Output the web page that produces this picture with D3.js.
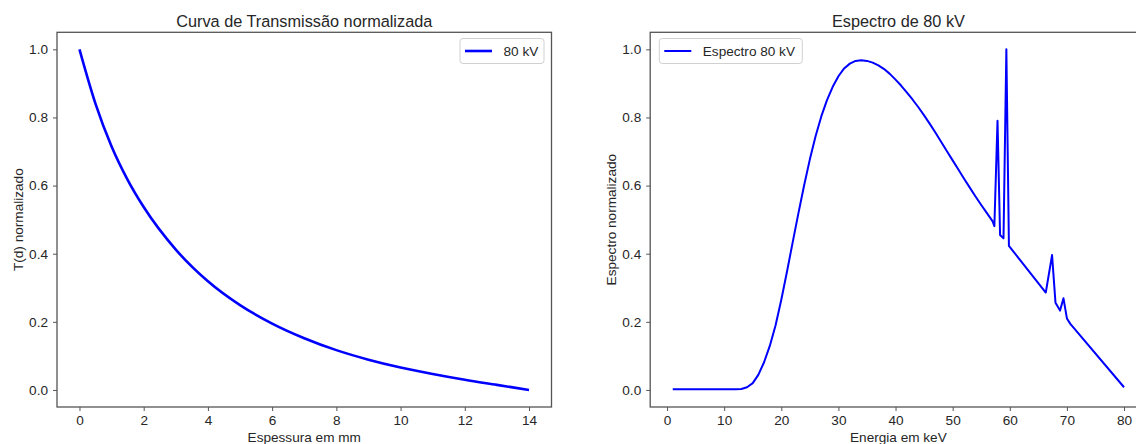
<!DOCTYPE html>
<meta charset="utf-8">
<html>
<head>
    <script src="https://cdn.jsdelivr.net/npm/d3@7"></script>
    <style>
        body { margin: 0; background: #fff; }
        text { font-family: "Liberation Sans", Arial, sans-serif; fill: #262626; }
    </style>
</head>
<body>
    <script>
    // transmission curve (left)
    var thicknessMm = [0, 0.5, 1, 1.5, 2, 3, 4, 5, 6, 7, 8, 9, 10, 11, 12, 13, 14];
    var transmission = [1.0, 0.84, 0.715, 0.617, 0.537, 0.412, 0.319, 0.249, 0.195, 0.152, 0.117, 0.089, 0.066, 0.047, 0.03, 0.015, 0.0];

    // 80 kV spectrum (right)
    var energyKeV = [1, 2, 3, 4, 5, 6, 7, 8, 9, 10, 11, 12, 13, 14, 15, 16, 17, 18, 19, 20,
        21, 22, 23, 24, 25, 26, 27, 28, 29, 30, 31, 32, 33, 34, 35, 36, 37, 38, 39, 40,
        41, 42, 43, 44, 45, 46, 47, 48, 49, 50, 51, 52, 53, 54, 55, 56, 57,
        57.3, 57.85, 58.3, 58.9, 59.4, 59.85, 66.3, 67.4, 68.0, 68.8, 69.4, 70.0, 70.6, 80];
    var spectrum = [0.002, 0.002, 0.002, 0.002, 0.002, 0.002, 0.002, 0.002, 0.002, 0.002, 0.002, 0.002, 0.003, 0.008, 0.02, 0.045, 0.082, 0.13, 0.19, 0.265,
        0.348, 0.434, 0.519, 0.601, 0.677, 0.745, 0.803, 0.851, 0.89, 0.921, 0.944, 0.958, 0.966, 0.968, 0.966, 0.961, 0.953, 0.942, 0.928, 0.911,
        0.893, 0.873, 0.852, 0.83, 0.806, 0.781, 0.755, 0.728, 0.701, 0.674, 0.647, 0.62, 0.594, 0.568, 0.543, 0.519, 0.495,
        0.481, 0.79, 0.455, 0.445, 1.0, 0.423, 0.286, 0.396, 0.256, 0.233, 0.269, 0.21, 0.194, 0.008];

    var xTicksLeft = [0, 2, 4, 6, 8, 10, 12, 14];
    var xTicksRight = [0, 10, 20, 30, 40, 50, 60, 70, 80];
    var yTicks = [0.0, 0.2, 0.4, 0.6, 0.8, 1.0];

    var svg = d3.select("body")
        .append("svg")
        .attr("width", 1136)
        .attr("height", 444);

    svg.append("rect").attr("width", 1136).attr("height", 444).attr("fill", "#fff");

    function panel(opt) {
        var xScale = d3.scaleLinear().domain(opt.xDomain).range([opt.left, opt.right]);
        var yScale = d3.scaleLinear().domain([-0.05, 1.05]).range([407, 32.3]);
        var g = svg.append("g");

        var xAxis = g.append("g")
            .attr("transform", "translate(0,407)")
            .call(d3.axisBottom(xScale).tickValues(opt.xTicks).tickSize(4).tickPadding(4).tickFormat(d3.format("d")));
        var yAxis = g.append("g")
            .attr("transform", "translate(" + opt.left + ",0)")
            .call(d3.axisLeft(yScale).tickValues(yTicks).tickSize(4).tickPadding(5).tickFormat(d3.format(".1f")));
        [xAxis, yAxis].forEach(function(a) {
            a.select(".domain").remove();
            a.selectAll("line").attr("stroke", "#555");
            a.selectAll("text").attr("font-size", "13.6px").attr("fill", "#262626");
        });

        // curve
        var line = d3.line()
            .x(function(d) { return xScale(d[0]); })
            .y(function(d) { return yScale(d[1]); })
            .curve(opt.curve);
        g.append("path")
            .datum(d3.zip(opt.xs, opt.ys))
            .attr("d", line)
            .attr("fill", "none")
            .attr("stroke", "#0000ff")
            .attr("stroke-width", opt.lw)
            .attr("stroke-linejoin", "round");

        // frame
        g.append("rect")
            .attr("x", opt.left).attr("y", 32.3)
            .attr("width", opt.right - opt.left).attr("height", 407 - 32.3)
            .attr("fill", "none").attr("stroke", "#555").attr("stroke-width", 1.3);

        // legend
        var lg = g.append("g");
        lg.append("rect")
            .attr("x", opt.legX).attr("y", 38.5).attr("rx", 3)
            .attr("width", opt.legW).attr("height", 25)
            .attr("fill", "#fff").attr("stroke", "#d0d0d0").attr("stroke-width", 1);
        lg.append("line")
            .attr("x1", opt.legX + 5).attr("x2", opt.legX + 32)
            .attr("y1", 51).attr("y2", 51)
            .attr("stroke", "#0000ff").attr("stroke-width", opt.lw);
        lg.append("text")
            .attr("x", opt.legX + 43.5).attr("y", 56)
            .attr("font-size", "13.6px")
            .text(opt.legend);

        // labels
        g.append("text")
            .attr("x", (opt.left + opt.right) / 2).attr("y", 27)
            .attr("text-anchor", "middle").attr("font-size", "16.3px")
            .text(opt.title);
        g.append("text")
            .attr("x", xScale(opt.xDomain[0] + (opt.xDomain[1] - opt.xDomain[0]) / 2)).attr("y", 441.5)
            .attr("text-anchor", "middle").attr("font-size", "13.6px")
            .text(opt.xLabel);
        g.append("text")
            .attr("transform", "translate(" + opt.yLabelX + "," + yScale(0.5) + ") rotate(-90)")
            .attr("text-anchor", "middle").attr("font-size", "13.6px")
            .text(opt.yLabel);
    }

    panel({
        left: 57, right: 551.5, xDomain: [-0.7, 14.7], xTicks: xTicksLeft,
        xs: thicknessMm, ys: transmission, curve: d3.curveMonotoneX, lw: 2.6,
        title: "Curva de Transmissão normalizada", xLabel: "Espessura em mm", yLabel: "T(d) normalizado",
        yLabelX: 22.5, legend: "80 kV", legX: 460, legW: 84
    });

    panel({
        left: 650.2, right: 1146.6, xDomain: [-2.95, 83.95], xTicks: xTicksRight,
        xs: energyKeV, ys: spectrum, curve: d3.curveLinear, lw: 2,
        title: "Espectro de 80 kV", xLabel: "Energia em keV", yLabel: "Espectro normalizado",
        yLabelX: 616, legend: "Espectro 80 kV", legX: 659.3, legW: 143
    });
    </script>
</body>
</html>
